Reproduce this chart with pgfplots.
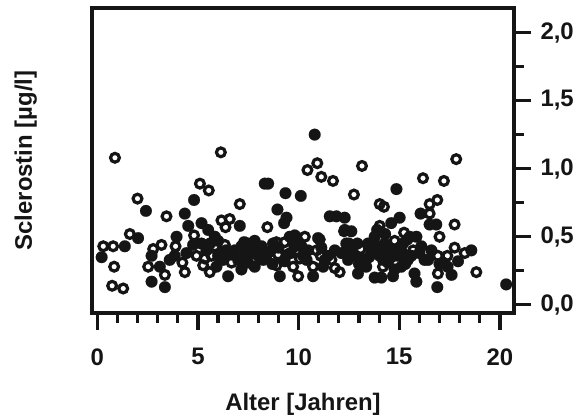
\documentclass[border=0pt]{standalone}
\usepackage{fontspec}
\setmainfont{Liberation Sans}
\usepackage{pgfplots}
\usepackage{pgfplotstable}
\pgfplotsset{compat=1.18}
\definecolor{dot}{HTML}{151515}

% open circles
\pgfplotstableread{
x y
0.88 1.08
0.30 0.43
0.79 0.43
0.84 0.28
0.74 0.14
1.29 0.12
1.62 0.52
2.00 0.78
2.78 0.41
3.19 0.44
2.53 0.28
3.36 0.22
3.44 0.65
3.89 0.43
4.35 0.24
4.23 0.31
4.81 0.51
5.10 0.89
5.54 0.84
6.14 1.12
6.17 0.62
6.58 0.63
6.37 0.57
7.08 0.74
4.93 0.36
5.26 0.29
5.59 0.24
5.67 0.36
5.84 0.43
6.34 0.44
6.67 0.31
5.34 0.34
8.45 0.57
8.90 0.46
8.98 0.37
8.90 0.29
9.31 0.46
9.45 0.37
9.73 0.28
9.89 0.40
9.98 0.21
10.06 0.34
10.31 0.50
10.72 0.28
10.89 0.40
10.44 0.99
10.93 1.04
11.13 0.94
11.71 0.91
11.05 0.48
11.10 0.36
11.63 0.33
12.04 0.24
11.80 0.27
12.26 0.54
12.75 0.81
13.15 1.02
13.08 0.41
14.03 0.74
14.24 0.72
14.03 0.58
14.19 0.28
14.77 0.47
15.10 0.40
15.24 0.53
15.43 0.33
15.69 0.40
16.18 0.93
17.22 0.91
16.89 0.77
16.51 0.74
16.51 0.67
17.00 0.50
17.75 0.59
17.83 1.07
17.75 0.42
17.39 0.36
16.92 0.36
16.92 0.23
18.25 0.38
18.83 0.24
}\opendata

% filled circles
\pgfplotstableread{
x y
0.22 0.35
1.37 0.43
2.03 0.49
2.42 0.69
2.70 0.17
3.36 0.13
3.11 0.28
2.70 0.36
3.60 0.33
3.94 0.50
3.85 0.36
4.35 0.67
4.81 0.77
4.52 0.58
4.43 0.38
5.18 0.60
5.51 0.55
5.84 0.50
5.18 0.45
4.76 0.44
5.43 0.40
6.00 0.36
6.25 0.33
5.92 0.28
6.50 0.21
7.08 0.58
6.83 0.40
7.16 0.43
7.33 0.36
7.16 0.26
7.66 0.38
7.82 0.28
8.16 0.43
8.24 0.33
8.57 0.39
8.32 0.89
8.49 0.89
8.95 0.70
9.35 0.82
9.40 0.64
9.28 0.60
10.11 0.80
10.80 1.25
9.07 0.21
9.31 0.32
9.56 0.50
9.81 0.51
10.14 0.43
10.47 0.40
10.72 0.21
10.97 0.49
11.22 0.28
11.55 0.65
11.88 0.65
12.29 0.64
12.29 0.55
12.62 0.54
12.37 0.45
12.13 0.38
12.46 0.33
12.95 0.23
12.92 0.45
13.20 0.33
13.61 0.40
13.78 0.50
13.78 0.20
14.11 0.20
14.03 0.36
14.36 0.38
14.44 0.31
14.69 0.21
14.60 0.60
15.02 0.64
14.86 0.85
15.10 0.28
15.35 0.36
15.52 0.50
15.85 0.50
15.85 0.17
15.76 0.23
16.10 0.43
16.26 0.33
16.06 0.67
16.51 0.59
16.84 0.59
16.43 0.33
16.89 0.13
17.17 0.31
17.60 0.22
17.92 0.32
18.58 0.40
20.31 0.15
7.49 0.45
7.82 0.47
7.99 0.36
7.49 0.31
8.73 0.45
9.81 0.43
10.22 0.36
11.13 0.42
11.46 0.36
13.45 0.45
13.94 0.43
14.28 0.45
14.52 0.40
14.94 0.36
15.19 0.45
15.60 0.36
13.36 0.28
14.77 0.26
6.67 0.37
6.17 0.38
5.60 0.45
6.00 0.47
6.40 0.40
7.00 0.33
7.30 0.46
7.60 0.42
8.00 0.40
8.40 0.36
8.70 0.30
9.00 0.42
9.60 0.38
10.00 0.46
10.40 0.33
11.30 0.33
11.80 0.40
12.60 0.40
12.80 0.36
13.00 0.30
13.50 0.35
13.80 0.40
14.20 0.33
14.40 0.42
14.60 0.35
15.00 0.42
15.30 0.30
15.40 0.48
13.90 0.55
14.30 0.52
12.50 0.45
16.00 0.38
16.60 0.40
17.00 0.30
17.40 0.28
}\filleddata

\begin{document}
\begin{tikzpicture}
\path[use as bounding box] (0,0) rectangle (578bp,419bp);
\begin{axis}[
  at={(92bp,106bp)}, anchor=south west,
  scale only axis, width=422bp, height=305bp,
  xmin=-0.26, xmax=20.7, ymin=-0.06, ymax=2.18,
  xtick={0,5,...,20}, ytick={0,0.5,...,2},
  minor x tick num=4, minor y tick num=1,
  xtick pos=left, ytick pos=right,
  tick align=outside,
  axis line style={line width=3.2bp, draw=dot},
  tick style={line width=3.2bp, draw=dot},
  major tick length=17bp, minor tick length=10bp,
  /pgf/number format/assume math mode=true,
  ticklabel style={font=\fontsize{24}{27}\selectfont\bfseries, text=dot},
  xticklabel style={yshift=-15bp},
  yticklabel style={xshift=6bp, /pgf/number format/.cd, fixed, fixed zerofill, precision=1, use comma},
  xlabel={Alter [Jahren]}, ylabel={Sclerostin [µg/l]},
  label style={font=\fontsize{24}{28}\selectfont\bfseries, text=dot},
  xlabel style={at={(axis description cs:0.5,-0.3)}, anchor=center},
  ylabel style={at={(axis description cs:-0.157,0.5)}, anchor=center},
  clip=false,
]
\addplot[only marks, mark=o, mark size=4.4bp, line width=3.2bp, mark options={line width=3.2bp, draw=dot, fill=white}] table {\opendata};
\addplot[only marks, mark=*, mark size=5.9bp, line width=0.1bp, mark options={draw=dot, fill=dot}] table {\filleddata};
\end{axis}
\end{tikzpicture}
\end{document}
